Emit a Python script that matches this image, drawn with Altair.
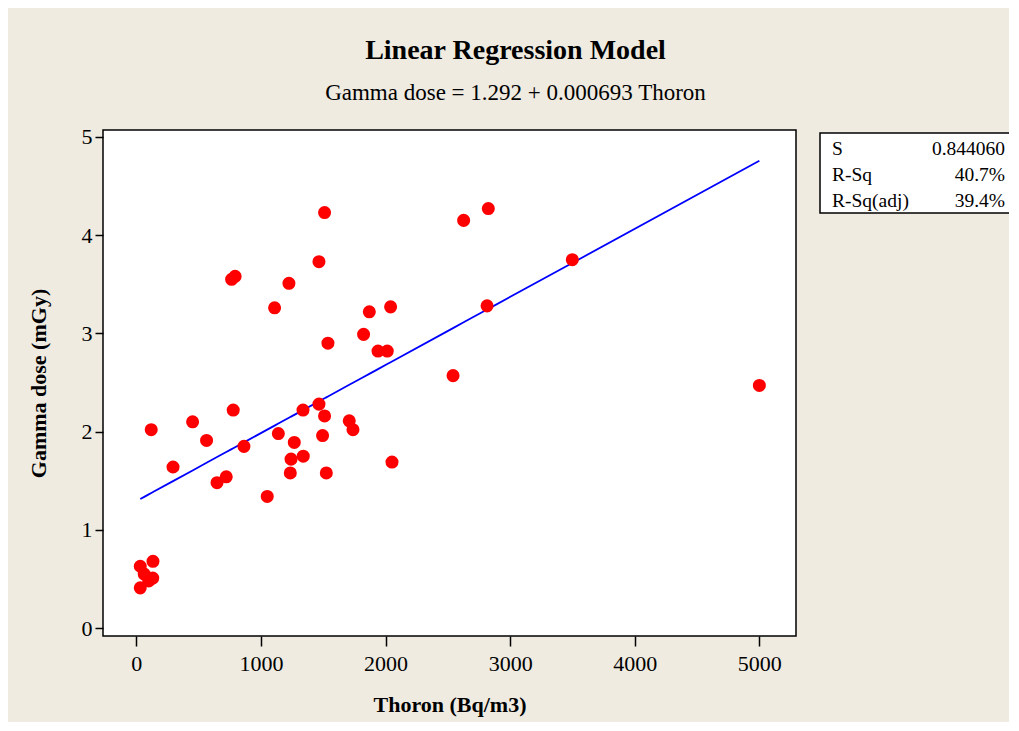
import altair as alt
import pandas as pd

# Data
thoron = [1511, 1466, 765, 793, 1225, 1110, 1870, 2041, 1538, 1824, 1940, 2014,
          120, 452, 778, 564, 295, 864, 648, 722, 1051, 1140, 1268, 1242, 1340,
          1236, 1338, 1466, 1511, 1495, 1525, 1709, 1739, 2052, 2542, 2627, 2825,
          3499, 2815, 5000, 32, 134, 64, 132, 100, 32]
gamma = [4.23, 3.73, 3.55, 3.58, 3.51, 3.26, 3.22, 3.27, 2.90, 2.99, 2.82, 2.82,
         2.02, 2.10, 2.22, 1.91, 1.64, 1.85, 1.48, 1.54, 1.34, 1.98, 1.89, 1.72, 1.75,
         1.58, 2.22, 2.28, 2.16, 1.96, 1.58, 2.11, 2.02, 1.69, 2.57, 4.15, 4.27,
         3.75, 3.28, 2.47, 0.63, 0.68, 0.55, 0.51, 0.48, 0.41]

# Regression coefficients shown in the subtitle
intercept = 1.292
slope = 0.000693

stat_labels = ["S", "R-Sq", "R-Sq(adj)"]
stat_values = ["0.844060", "40.7%", "39.4%"]

FONT = "Liberation Serif"
BG = "#EFEBE0"

pts = pd.DataFrame({"Thoron": thoron, "Gamma": gamma})
line_x = sorted(set(thoron))
line_df = pd.DataFrame({"Thoron": line_x,
                        "Fit": [intercept + slope * v for v in line_x]})
stats_df = pd.DataFrame({"row": list(range(len(stat_labels))),
                         "label": stat_labels, "value": stat_values})

xscale = alt.Scale(domain=[-267, 5294], nice=False, zero=False)
yscale = alt.Scale(domain=[-0.08, 5.07], nice=False, zero=False)

xaxis = alt.Axis(title="Thoron (Bq/m3)", values=[0, 1000, 2000, 3000, 4000, 5000],
                 format="d",
                 grid=False, domain=False, tickSize=10, tickWidth=1.5, tickColor="black",
                 labelFont=FONT, labelFontSize=22, labelColor="black", labelPadding=7,
                 titleFont=FONT, titleFontSize=22, titleFontWeight="bold",
                 titleColor="black", titlePadding=20, labelFlush=False)
yaxis = alt.Axis(title="Gamma dose (mGy)", values=[0, 1, 2, 3, 4, 5], format="d",
                 grid=False, domain=False, tickSize=8, tickWidth=1.5, tickColor="black",
                 labelFont=FONT, labelFontSize=22, labelColor="black", labelPadding=3,
                 titleFont=FONT, titleFontSize=22, titleFontWeight="bold",
                 titleColor="black", titlePadding=31, labelFlush=False)

points = alt.Chart(pts).mark_circle(size=170, color="#FF0000", opacity=1).encode(
    x=alt.X("Thoron:Q", scale=xscale, axis=xaxis),
    y=alt.Y("Gamma:Q", scale=yscale, axis=yaxis),
)

fit = alt.Chart(line_df).mark_line(color="#0000FF", strokeWidth=1.8).encode(
    x=alt.X("Thoron:Q", scale=xscale),
    y=alt.Y("Fit:Q", scale=yscale),
)

main = alt.layer(fit, points)

# Statistics box (annotation at the right of the plot)
box = alt.Chart(pd.DataFrame({"k": [0]})).mark_rect(
    fill="white", stroke="black", strokeWidth=1.5
).encode(x=alt.value(717), x2=alt.value(909), y=alt.value(3), y2=alt.value(83))

rowscale = alt.Scale(domain=[0, 2], range=[19, 71])
stat_lab = alt.Chart(stats_df).mark_text(
    align="left", baseline="middle", font=FONT, fontSize=19.5, color="black"
).encode(x=alt.value(729), y=alt.Y("row:Q", scale=rowscale, axis=None), text="label:N")
stat_val = alt.Chart(stats_df).mark_text(
    align="right", baseline="middle", font=FONT, fontSize=19.5, color="black"
).encode(x=alt.value(902), y=alt.Y("row:Q", scale=rowscale, axis=None), text="value:N")

stats = alt.layer(box, stat_lab, stat_val)

chart = alt.layer(main, stats).resolve_scale(y="independent").properties(
    width=693, height=506,
    autosize=alt.AutoSizeParams(type="none"),
    padding={"left": 95, "top": 122, "right": 213, "bottom": 86},
    background=BG,
    title=alt.TitleParams(
        text="Linear Regression Model",
        subtitle="Gamma dose =  1.292 + 0.000693 Thoron",
        font=FONT, fontSize=28, fontWeight="bold", color="black",
        subtitleFont=FONT, subtitleFontSize=23, subtitleColor="black",
        subtitlePadding=17, anchor="middle", dx=66, offset=21,
    ),
).configure_view(fill="white", stroke="black", strokeWidth=1.5)

chart.save("out.html", embed_options={"renderer": "svg", "actions": False})
